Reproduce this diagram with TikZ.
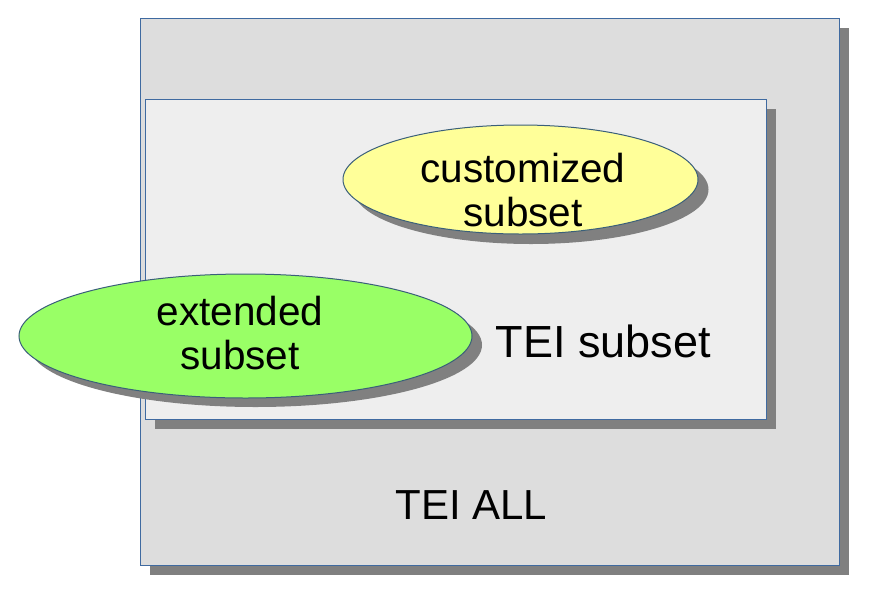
\documentclass[tikz,border=0pt]{standalone}
\usepackage{fontspec}
\setmainfont{Liberation Sans}
\usetikzlibrary{positioning}
\definecolor{outerfill}{HTML}{DDDDDD}
\definecolor{innerfill}{HTML}{EEEEEE}
\definecolor{frameblue}{HTML}{3F6AA0}
\definecolor{rimblue}{HTML}{3A5F7A}
\definecolor{shadowgray}{HTML}{808080}
\definecolor{custyellow}{HTML}{FFFF99}
\definecolor{extgreen}{HTML}{99FF66}
\tikzset{
  box/.style={draw=frameblue,line width=1pt},
  blob/.style={draw=rimblue,line width=1pt},
  shade/.style={fill=shadowgray},
  lbl/.style={font=\fontsize{40.5}{43.5}\selectfont,align=center,inner sep=0pt}
}
\begin{document}
\begin{tikzpicture}[x=1pt,y=-1pt]
    \useasboundingbox (0,0) rectangle (883,598);
    % TEI ALL
    \fill[shade] (150,28) rectangle (849,575);
    \draw[box,fill=outerfill] (140,18) rectangle (839,565);
    % TEI subset
    \fill[shade] (155,109) rectangle (776,429);
    \draw[box,fill=innerfill] (145,99) rectangle (766,419);
    % customized subset
    \fill[shade] (531,189.5) ellipse [x radius=177.5,y radius=54.5];
    \draw[blob,fill=custyellow] (520.5,179.5) ellipse [x radius=177.5,y radius=54.5];
    % extended subset
    \fill[shade] (255.5,345) ellipse [x radius=226.5,y radius=62];
    \draw[blob,fill=extgreen] (245.5,336) ellipse [x radius=226.5,y radius=62];
    % Textes
    \node[lbl] (custom) at (523,190) {customized\\subset};
    \node[lbl] (ext) at (240,333) {extended\\subset};
    \node[lbl,font=\fontsize{45}{48}\selectfont,anchor=base] (sub) at (603.5,357) {TEI subset};
    \node[lbl,font=\fontsize{42}{45}\selectfont,anchor=base] (all) at (471.5,519) {TEI ALL};
\end{tikzpicture}
\end{document}
